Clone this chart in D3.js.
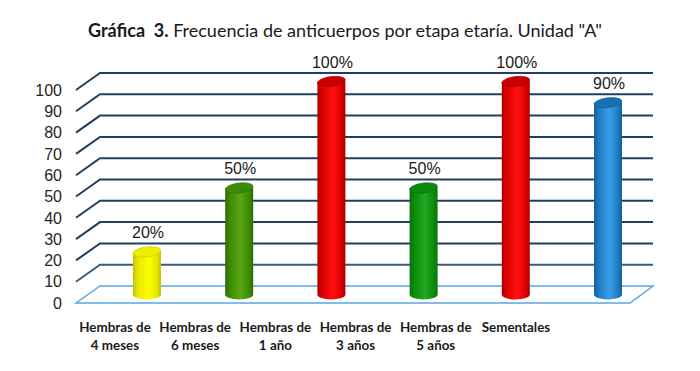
<!DOCTYPE html>
<meta charset="utf-8">
<style>
  body { margin: 0; background: #fff; }
  .tick-label { font-family: "Liberation Sans", Arial, sans-serif; font-size: 16px; fill: #262626; }
  .value-label { font-family: "Liberation Sans", Arial, sans-serif; font-size: 16px; fill: #1a1a1a; }
  .cat-label { font-family: Lato, "Open Sans", sans-serif; font-size: 13.4px; font-weight: bold; fill: #1a1a1a; }
  .title { font-family: Lato, "Open Sans", sans-serif; font-size: 18px; fill: #1a1a1a; white-space: pre; }
</style>
<body>
<script src="https://d3js.org/d3.v7.min.js"></script>
<script>

var categories = ["Hembras de 4 meses", "Hembras de 6 meses", "Hembras de 1 año",
                  "Hembras de 3 años", "Hembras de 5 años", "Sementales"];
var labelLines = [["Hembras de", "4 meses"], ["Hembras de", "6 meses"], ["Hembras de", "1 año"],
                  ["Hembras de", "3 años"], ["Hembras de", "5 años"], ["Sementales"]];
var values = [20, 50, 100, 50, 100, 90];
var valueLabels = ["20%", "50%", "100%", "50%", "100%", "90%"];
var ticks = [0, 10, 20, 30, 40, 50, 60, 70, 80, 90, 100];

// [dark edge, light middle, right edge, top]
var barColors = [
  ["#c4c400", "#ffff00", "#e8e800", "#eded00"],
  ["#2a6e00", "#5aa812", "#3f8a06", "#3c8a08"],
  ["#a80000", "#ff1010", "#dd0000", "#c40000"],
  ["#067406", "#22a822", "#0d8c0d", "#0a8a0a"],
  ["#a80000", "#ff1010", "#dd0000", "#c40000"],
  ["#11609e", "#3a9ee8", "#1f7cc4", "#1a6fae"]
];

var width = 700, height = 371;
var depthX = 24, depthY = -17;   // offset front -> back wall
var leftFront = 76, rightFront = 630;

var svg = d3.select("body").append("svg")
  .attr("width", width)
  .attr("height", height);

var y = d3.scaleLinear().domain([0, 100]).range([303, 90]);
var x = d3.scalePoint().domain(categories).range([135, 596]);
var xLabel = d3.scalePoint().domain(categories).range([115, 516]);

var defs = svg.append("defs");
barColors.forEach(function(c, i) {
  var grad = defs.append("linearGradient")
    .attr("id", "bar" + i)
    .attr("x1", "0%").attr("x2", "100%").attr("y1", "0%").attr("y2", "0%");
  grad.append("stop").attr("offset", "0%").attr("stop-color", c[0]);
  grad.append("stop").attr("offset", "18%").attr("stop-color", c[2]);
  grad.append("stop").attr("offset", "55%").attr("stop-color", c[1]);
  grad.append("stop").attr("offset", "85%").attr("stop-color", c[2]);
  grad.append("stop").attr("offset", "100%").attr("stop-color", c[0]);
});

// title
var title = svg.append("text")
  .attr("class", "title")
  .attr("x", 345)
  .attr("y", 37)
  .attr("text-anchor", "middle");
title.append("tspan").attr("font-weight", "bold").text("Gráfica  3.");
title.append("tspan").text(" Frecuencia de anticuerpos por etapa etaría. Unidad \"A\"");

// floor
var y0 = y(0);
svg.append("path")
  .attr("d", "M" + leftFront + "," + y0 +
             "L" + (leftFront + depthX) + "," + (y0 + depthY) +
             "L" + (rightFront + depthX - 1) + "," + (y0 + depthY) +
             "L" + rightFront + "," + y0 + "Z")
  .attr("fill", "#fff")
  .attr("stroke", "#5aa5e0")
  .attr("stroke-width", 1.5);

// gridlines on the side and back walls
var grid = svg.append("g");
ticks.filter(function(t) { return t > 0; }).forEach(function(t) {
  var yy = y(t);
  grid.append("path")
    .attr("d", "M" + leftFront + "," + yy +
               "L" + (leftFront + depthX) + "," + (yy + depthY) +
               "L" + (rightFront + depthX - 1) + "," + (yy + depthY))
    .attr("fill", "none")
    .attr("stroke", t === 10 ? "#3d5a7a" : "#243f5e")
    .attr("stroke-width", 2);
});

// y tick labels
svg.append("g").selectAll("text")
  .data(ticks)
  .enter().append("text")
    .attr("class", "tick-label")
    .attr("x", 62)
    .attr("y", function(d) { return y(d); })
    .attr("dy", "0.36em")
    .attr("text-anchor", "end")
    .text(function(d) { return d; });

// cylinders
var rx = 14, ry = 5;
var bars = svg.append("g").selectAll("g")
  .data(values)
  .enter().append("g")
    .attr("transform", function(d, i) {
      return "translate(" + (x(categories[i]) + depthX / 2) + "," + (depthY / 2) + ")";
    });

bars.append("path")
  .attr("d", function(d) {
    var top = y(d), bot = y(0);
    return "M" + (-rx) + "," + top +
           "L" + (-rx) + "," + bot +
           "A" + rx + "," + ry + " 0 0,0 " + rx + "," + bot +
           "L" + rx + "," + top + "Z";
  })
  .attr("fill", function(d, i) { return "url(#bar" + i + ")"; });

bars.append("ellipse")
  .attr("cx", 0)
  .attr("cy", function(d) { return y(d); })
  .attr("rx", rx)
  .attr("ry", ry)
  .attr("transform", function(d) { return "rotate(-7,0," + y(d) + ")"; })
  .attr("fill", function(d, i) { return barColors[i][3]; })
  .attr("stroke", function(d, i) { return barColors[i][0]; })
  .attr("stroke-width", 0.6);

bars.append("text")
  .attr("class", "value-label")
  .attr("x", 1)
  .attr("y", function(d) { return y(d) - 14; })
  .attr("text-anchor", "middle")
  .text(function(d, i) { return valueLabels[i]; });

// category labels
var cat = svg.append("g").selectAll("text")
  .data(categories)
  .enter().append("text")
    .attr("class", "cat-label")
    .attr("text-anchor", "middle")
    .attr("x", function(d) { return xLabel(d); })
    .attr("y", 332);
cat.selectAll("tspan")
  .data(function(d, i) { return labelLines[i]; })
  .enter().append("tspan")
    .attr("x", function() { return xLabel(d3.select(this.parentNode).datum()); })
    .attr("dy", function(d, j) { return j === 0 ? 0 : 18; })
    .text(function(d) { return d; });

</script>
</body>
</html>
